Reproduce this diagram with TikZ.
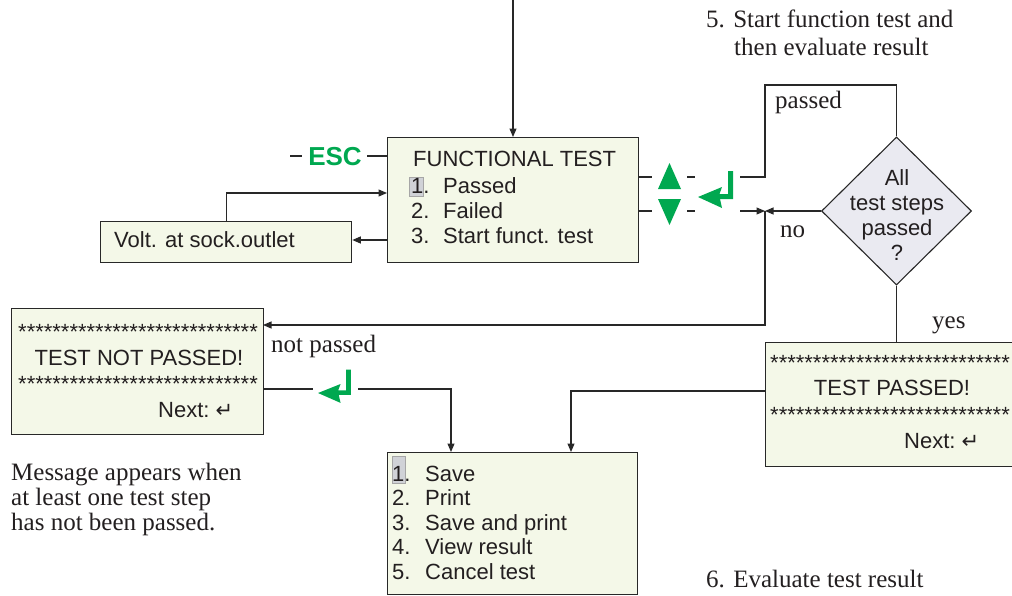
\documentclass[tikz,border=0pt]{standalone}
\usepackage{fontspec}
\setmainfont{Liberation Serif}
\setsansfont{Liberation Sans}
\newfontfamily\symf{DejaVu Sans}
\usetikzlibrary{arrows.meta,shapes.geometric}
\definecolor{boxfill}{RGB}{244,248,232}
\definecolor{linec}{RGB}{40,40,40}
\definecolor{txt}{RGB}{35,31,32}
\definecolor{keygreen}{RGB}{0,168,80}
\definecolor{diafill}{RGB}{234,234,241}
\definecolor{hl}{RGB}{208,210,215}
\begin{document}
\begin{tikzpicture}[x=1pt,y=-1pt,
  conn/.style={draw=linec,line width=1.1pt},
  arr/.style={conn,-{Triangle[length=8.5pt,width=7pt]}},
  screen/.style={draw=linec,fill=boxfill,line width=1.3pt,rectangle,inner sep=0pt,anchor=north west},
  sans/.style={font=\sffamily\fontsize{22}{25}\selectfont,inner sep=0pt,text=txt,anchor=base west},
  serif/.style={font=\rmfamily\fontsize{25}{27}\selectfont,inner sep=0pt,text=txt,anchor=base west},
  stars/.style={sans},
  hlbox/.style={fill=hl,draw=gray!70,line width=0.4pt},
  enter/.pic={\fill[keygreen] (0,0) -- (24,-10) -- (21.5,-3) -- (30,-3) -- (30,-26) -- (35,-26) -- (35,2) -- (22,2) -- (24,11) -- cycle;},
  key/.style={fill=keygreen,draw=none}
]
\useasboundingbox (0,0) rectangle (1012,595);

% ---------- screens ----------
\node[screen,minimum width=251pt,minimum height=125pt] (ft) at (387,137) {};
\node[screen,minimum width=251pt,minimum height=41pt] (volt) at (100,221) {};
\node[screen,minimum width=252pt,minimum height=126pt] (np) at (11,308) {};
\node[screen,minimum width=247pt,minimum height=124pt] (tp) at (765,342) {};
\node[screen,minimum width=250pt,minimum height=142pt] (menu) at (387,452) {};
\node[diamond,draw=linec,fill=diafill,line width=1.1pt,minimum width=150pt,minimum height=148pt,inner sep=0pt] (dia) at (896.5,211) {};

% ---------- functional test text ----------
\fill[hlbox] (409,177) rectangle (423,196);
\node[sans] (ftT) at (413,166) {FUNCTIONAL TEST};
\node[sans] (ft1) at (411,193) {1.};
\node[sans] (ft1t) at (443,193) {Passed};
\node[sans] (ft2) at (411,218) {2.};
\node[sans] (ft2t) at (443,218) {Failed};
\node[sans] (ft3) at (411,243) {3.};
\node[sans] (ft3t) at (443,243) {Start funct. test};

\node[sans] (voltT) at (114,247) {Volt. at sock.outlet};

% ---------- diamond text ----------
\node[sans,anchor=base] (d1) at (897,185) {All};
\node[sans,anchor=base] (d2) at (897,210) {test steps};
\node[sans,anchor=base] (d3) at (897,235) {passed};
\node[sans,anchor=base] (d4) at (897,260) {?};

% ---------- not passed screen ----------
\node[stars] (np1) at (18,339.5) {****************************};
\node[sans,anchor=base] (npT) at (139,365) {TEST NOT PASSED!};
\node[stars] (np2) at (18,391.5) {****************************};
\node[sans] (npN) at (158,417) {Next:~{\symf\fontsize{21}{21}\selectfont ↵}};

% ---------- passed screen ----------
\node[stars] (tp1) at (770,370.5) {****************************};
\node[sans,anchor=base] (tpT) at (892,395) {TEST PASSED!};
\node[stars] (tp2) at (770,422.5) {****************************};
\node[sans] (tpN) at (904,448) {Next:~{\symf\fontsize{21}{21}\selectfont ↵}};

% ---------- menu ----------
\fill[hlbox] (392,456) rectangle (405,483);
\node[sans] (m1) at (392,481) {1.};
\node[sans] (m1t) at (425,481) {Save};
\node[sans] (m2) at (392,505.5) {2.};
\node[sans] (m2t) at (425,505.5) {Print};
\node[sans] (m3) at (392,530) {3.};
\node[sans] (m3t) at (425,530) {Save and print};
\node[sans] (m4) at (392,554.5) {4.};
\node[sans] (m4t) at (425,554.5) {View result};
\node[sans] (m5) at (392,579) {5.};
\node[sans] (m5t) at (425,579) {Cancel test};

% ---------- annotations ----------
\node[serif] (a5a) at (706,27) {5. Start function test and};
\node[serif] (a5b) at (734,55) {then evaluate result};
\node[serif] (a6) at (706,587) {6. Evaluate test result};
\node[serif] (msg1) at (11,480) {Message appears when};
\node[serif] (msg2) at (11,505) {at least one test step};
\node[serif] (msg3) at (11,530) {has not been passed.};
\node[serif] (lpass) at (775,108) {passed};
\node[serif] (lno) at (780,237) {no};
\node[serif] (lyes) at (932,328) {yes};
\node[serif] (lnp) at (271,352) {not passed};

% ---------- ESC ----------
\node[font=\sffamily\bfseries\fontsize{26}{26}\selectfont,text=keygreen,inner sep=0pt] (esc) at (335,157) {ESC};
\coordinate (escL1) at (290,156);
\coordinate (escL2) at (302,156);
\coordinate (escR) at (367,156);
\draw[conn] (escL1) -- (escL2);
\draw[conn] (escR) -- (escR -| ft.west);

% ---------- connectors ----------
\coordinate (top) at (513,0);
\draw[arr] (top) -- (top |- ft.north);

\coordinate (ftA) at (387,193);
\coordinate (ftB) at (387,240);
\draw[arr] (volt.north) |- (ftA);
\draw[arr] (ftB) -- (ftB -| volt.east);

% up / down keys
\coordinate (ftU) at (638,177);
\coordinate (ftU2) at (652,177);
\coordinate (ftD) at (638,211);
\coordinate (ftD2) at (652,211);
\draw[conn] (ftU) -- (ftU2);
\draw[conn] (ftD) -- (ftD2);
\fill[key] (658,189) -- (681,189) -- (669.5,163) -- cycle;
\fill[key] (658,199) -- (681,199) -- (669.5,225) -- cycle;
\coordinate (dU1) at (687,177);
\coordinate (dU2) at (695,177);
\coordinate (dD1) at (687,211);
\coordinate (dD2) at (695,211);
\draw[conn] (dU1) -- (dU2);
\draw[conn] (dD1) -- (dD2);
\pic at (698,197) {enter};

\coordinate (uS) at (740,177);
\coordinate (uTop) at (765,85);
\coordinate (dS) at (740,211);
\coordinate (jn) at (765,211);
\coordinate (npIn) at (263,325);
\draw[conn] (uS) -| (uTop) -| (dia.north);
\draw[arr] (dS) -- (jn);
\draw[arr] (dia.west) -- (jn);
\draw[arr] (jn) |- (npIn);

\draw[conn] (dia.south) -- (dia.south |- tp.north);

\coordinate (tpOut) at (765,391);
\coordinate (menuR) at (571,452);
\draw[arr] (tpOut) -| (menuR);

\coordinate (npOut) at (263,389);
\coordinate (npOut2) at (313,389);
\coordinate (npS) at (358,389);
\coordinate (menuL) at (451,452);
\draw[conn] (npOut) -- (npOut2);
\pic[xscale=0.94,yscale=0.9] at (318,393) {enter};
\draw[arr] (npS) -| (menuL);
\end{tikzpicture}
\end{document}
